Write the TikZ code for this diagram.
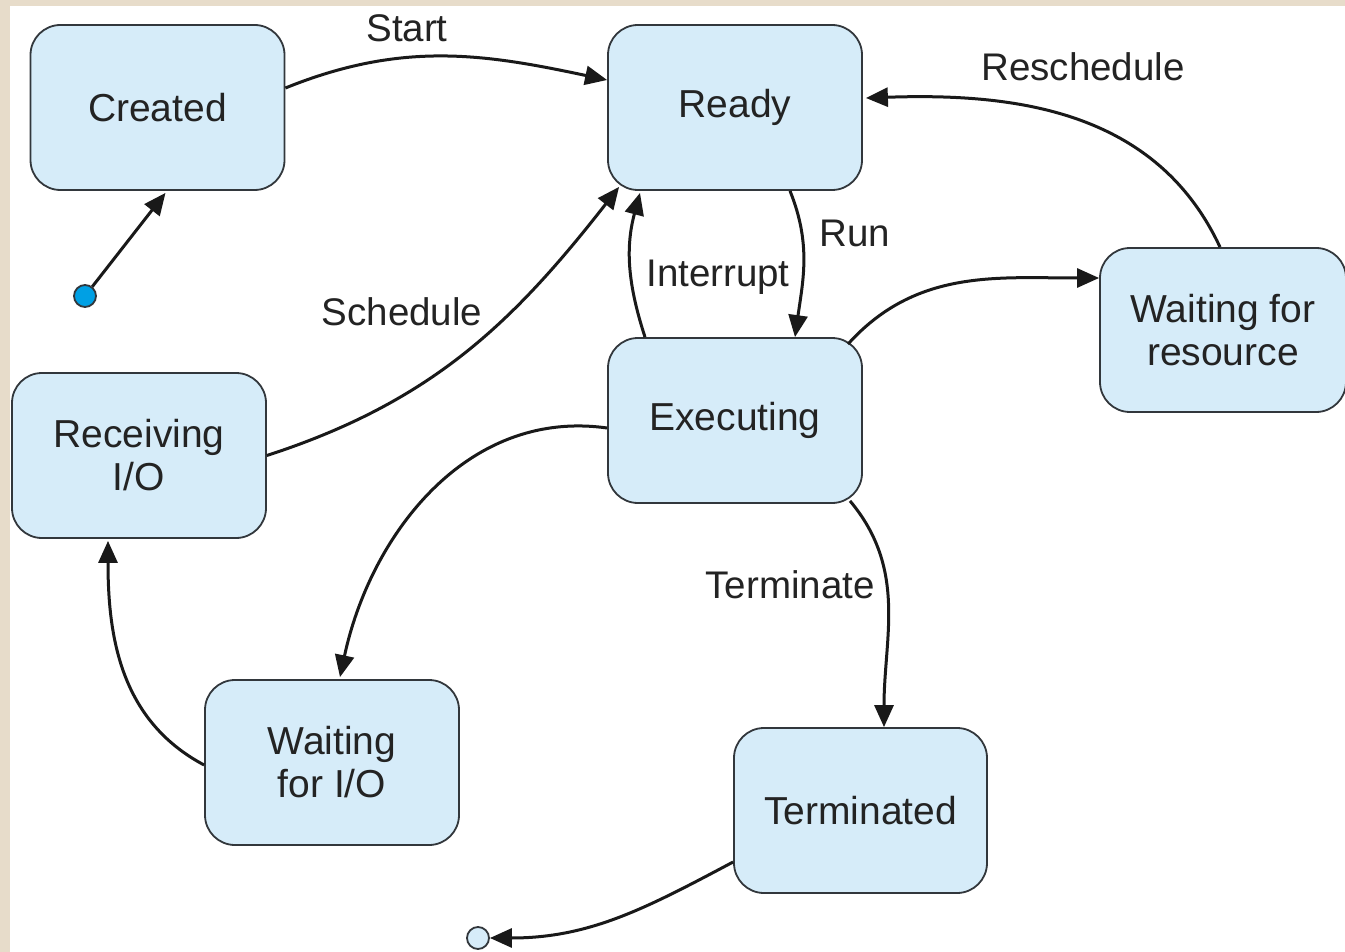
\documentclass[tikz,border=0pt]{standalone}
\usepackage{fontspec}
\setmainfont{Liberation Sans}
\usetikzlibrary{arrows.meta}

\definecolor{statefill}{RGB}{214,236,249}
\definecolor{stateline}{RGB}{50,55,60}
\definecolor{frame}{RGB}{231,220,202}
\definecolor{initdot}{RGB}{0,160,228}
\definecolor{textgray}{RGB}{35,35,35}

\tikzset{
  state/.style={draw=stateline, line width=1.8pt, fill=statefill, rounded corners=30pt,
    minimum width=254pt, minimum height=165pt, align=center, text=textgray,
    font=\fontsize{39}{43}\selectfont, inner sep=0pt},
  trans/.style={draw=black!90, line width=3pt,
    -{Triangle[length=22pt,width=19pt]}},
  lbl/.style={text=textgray, font=\fontsize{38.5}{42}\selectfont, inner sep=0pt},
  dot/.style={circle, draw=stateline, line width=1.8pt, minimum size=22pt, inner sep=0pt}
}

\begin{document}
\begin{tikzpicture}[x=1pt,y=1pt]
  % page frame
  \fill[frame] (0,0) rectangle (1345,-952);
  \fill[white] (10,-6) rectangle (1345,-952);
  \useasboundingbox (0,0) rectangle (1345,-952);

  % states
  \node[state] (created) at (157.5,-107.5) {Created};
  \node[state] (ready)   at (735,-107.5)   {Ready};
  \node[state] (exec)    at (735,-420.5)   {Executing};
  \node[state, minimum width=246pt, minimum height=164pt] (waitres) at (1223,-330) {Waiting for\\resource};
  \node[state] (recv)    at (139,-455.5)   {Receiving\\I/O};
  \node[state] (waitio)  at (332,-762.5)   {Waiting\\for I/O};
  \node[state, minimum width=253pt] (term) at (860.5,-810.5) {Terminated};

  % initial and final pseudo-states
  \node[dot, fill=initdot] (init) at (85,-296) {};
  \node[dot, fill=statefill] (final) at (478,-938) {};

  % transitions
  \draw[trans] (init) -- ([xshift=8pt,yshift=-2pt]created.south);
  \draw[trans] ([yshift=19.5pt]created.east) to[out=22,in=168] ([yshift=27.5pt]ready.west);
  \draw[trans] (recv.east) to[out=18,in=232] ([xshift=12pt,yshift=4pt]ready.south west);
  \draw[trans] ([xshift=-90pt]exec.north) to[out=108,in=255] ([xshift=-95pt,yshift=-2pt]ready.south);
  \draw[trans] ([xshift=55pt]ready.south) to[out=-68,in=82] ([xshift=60pt]exec.north);
  \draw[trans] ([xshift=113pt,yshift=-7pt]exec.north) to[out=48,in=180] ([yshift=52pt]waitres.west);
  \draw[trans] ([xshift=-3pt]waitres.north) to[out=115,in=2] ([xshift=3pt,yshift=9.5pt]ready.east);
  \draw[trans] ([yshift=-7.5pt]exec.west) to[out=172,in=78] ([xshift=8pt,yshift=2pt]waitio.north);
  \draw[trans] ([yshift=-2.5pt]waitio.west) to[out=152,in=270] ([xshift=-31pt,yshift=-2pt]recv.south);
  \draw[trans] ([xshift=115pt,yshift=3pt]exec.south) to[out=-50,in=90] ([xshift=23.5pt]term.north);
  \draw[trans] ([yshift=-51.5pt]term.west) to[out=208,in=0] (final);

  % transition labels
  \node[lbl] (lstart) at (407,-28) {Start};
  \node[lbl] (lsched) at (402,-312) {Schedule};
  \node[lbl] (lint)   at (718,-277) {Interrupt};
  \node[lbl] (lrun)   at (855,-233) {Run};
  \node[lbl] (lresch) at (1083,-67) {Reschedule};
  \node[lbl] (lterm)  at (790,-585) {Terminate};
\end{tikzpicture}
\end{document}
